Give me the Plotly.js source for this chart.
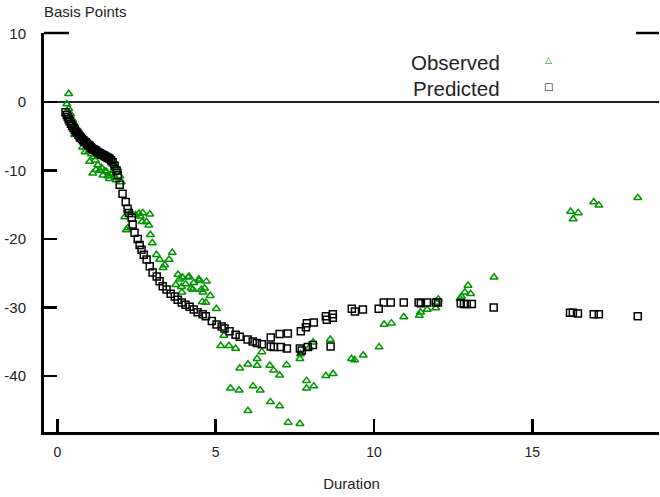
<!DOCTYPE html>
<html>
<head>
<meta charset="utf-8">
<script src="https://cdn.plot.ly/plotly-3.0.1.min.js"></script>
<style>html,body{margin:0;padding:0;background:#fff;}#chart{width:660px;height:497px;}</style>
</head>
<body>
<div id="chart"></div>
<script>
// Predicted (squares)
const predictedX = [0.26,0.30,0.33,0.36,0.39,0.43,0.47,0.51,0.55,0.59,0.63,0.67,0.70,0.74,0.78,0.82,0.86,0.90,0.94,0.98,1.02,1.06,1.10,1.14,1.18,1.22,1.26,1.30,1.34,1.38,1.42,1.46,1.49,1.53,1.57,1.61,1.65,1.70,1.75,1.81,1.87,1.91,1.97,2.06,2.16,2.22,2.26,2.35,2.38,2.44,2.54,2.60,2.66,2.73,2.82,2.92,3.01,3.14,3.23,3.33,3.45,3.58,3.71,3.80,3.93,4.05,4.18,4.31,4.43,4.59,4.69,4.88,5.03,5.19,5.28,5.44,5.63,5.76,6.01,6.17,6.30,6.46,6.74,6.84,7.06,7.25,7.66,7.72,7.91,8.07,8.63,6.74,7.02,7.28,7.69,7.85,7.88,8.10,8.48,8.51,8.70,8.70,9.30,9.40,9.65,10.15,10.31,10.53,10.94,11.41,11.48,11.67,11.95,12.02,12.74,12.84,12.93,13.09,13.78,16.19,16.28,16.44,16.94,17.10,18.33];
const predictedY = [-1.5,-1.9,-2.2,-2.5,-2.8,-3.2,-3.5,-3.8,-4.1,-4.3,-4.5,-4.8,-5.0,-5.2,-5.4,-5.6,-5.8,-5.9,-6.1,-6.3,-6.4,-6.6,-6.8,-6.9,-7.0,-7.1,-7.3,-7.4,-7.5,-7.6,-7.7,-7.8,-7.9,-8.0,-8.1,-8.2,-8.3,-8.5,-8.8,-9.3,-10.0,-10.7,-12.1,-13.4,-14.6,-15.6,-16.2,-16.9,-17.9,-19.1,-20.0,-20.9,-21.6,-22.3,-23.0,-24.0,-24.9,-25.5,-26.2,-26.9,-27.4,-28.0,-28.4,-28.9,-29.3,-29.6,-29.9,-30.3,-30.7,-31.0,-31.3,-32.0,-32.5,-32.8,-33.1,-33.5,-34.0,-34.3,-34.7,-35.0,-35.2,-35.4,-35.7,-35.8,-35.8,-36.0,-36.0,-36.3,-35.8,-35.5,-35.7,-34.4,-33.9,-33.8,-33.5,-32.9,-32.3,-32.2,-31.3,-31.8,-31.0,-31.5,-30.2,-30.6,-30.3,-30.2,-29.3,-29.3,-29.3,-29.3,-29.4,-29.3,-29.3,-29.3,-29.4,-29.5,-29.5,-29.5,-30.0,-30.8,-30.8,-30.9,-31.0,-31.0,-31.3];

// Observed (triangles)
const observedX = [0.36,0.30,0.36,0.42,0.48,0.55,0.60,0.55,0.66,0.72,0.78,0.85,0.80,0.92,1.00,0.88,1.08,1.15,1.20,1.02,1.12,1.22,1.28,1.34,1.40,1.44,1.50,1.55,1.60,1.65,1.70,1.76,1.82,1.86,1.91,1.97,2.02,1.80,1.72,
2.13,2.23,2.18,2.32,2.47,2.58,2.62,2.70,2.81,2.92,2.68,2.89,2.94,3.00,3.13,3.23,3.34,3.39,3.53,3.63,3.81,3.86,3.95,4.05,4.13,3.74,3.92,4.23,4.31,4.47,4.55,4.71,4.65,4.83,4.69,5.02,4.16,4.48,4.28,3.93,4.58,4.60,
5.26,5.16,5.42,5.63,6.46,6.31,6.02,5.76,6.31,6.71,6.83,7.02,7.24,5.47,5.74,6.18,6.41,6.02,6.73,7.02,7.29,7.66,7.66,7.68,7.95,8.08,7.87,7.87,8.10,8.48,8.71,8.62,9.29,9.39,
9.66,10.16,10.32,10.55,10.94,11.43,11.47,11.68,11.95,12.03,12.00,12.76,12.87,12.97,13.05,12.72,13.79,16.21,16.45,16.29,16.94,17.10,18.33];
const observedY = [1.2,-0.3,-1.0,-1.8,-2.6,-3.3,-3.9,-4.8,-4.5,-5.5,-5.2,-6.0,-6.6,-6.6,-7.2,-7.3,-7.6,-8.0,-8.5,-8.7,-10.4,-9.9,-9.2,-10.0,-9.6,-10.7,-10.1,-10.2,-10.8,-11.2,-10.5,-10.4,-11.0,-11.4,-9.7,-10.8,-11.7,-9.3,-8.9,
-16.8,-18.4,-18.7,-16.1,-16.5,-16.3,-16.7,-16.2,-17.5,-16.4,-17.5,-18.0,-19.4,-20.6,-22.3,-23.0,-24.2,-23.8,-23.0,-22.0,-25.2,-25.9,-25.6,-26.6,-25.6,-26.7,-27.0,-27.2,-26.4,-25.9,-27.4,-26.2,-27.2,-28.3,-29.3,-30.2,-25.5,-26.1,-27.4,-27.8,-29.2,-27.8,
-34.1,-35.6,-35.6,-36.0,-36.5,-37.5,-38.3,-38.9,-38.5,-38.5,-39.2,-39.9,-38.4,-41.8,-42.1,-41.5,-42.1,-45.1,-43.8,-44.4,-46.8,-47.0,-37.5,-36.8,-35.9,-35.1,-40.7,-41.8,-41.5,-40.0,-39.7,-34.7,-37.5,-37.7,
-37.0,-35.8,-32.5,-32.3,-31.4,-31.2,-30.7,-30.3,-30.1,-28.8,-29.3,-28.4,-27.8,-26.8,-28.0,-28.7,-25.6,-16.0,-16.2,-17.1,-14.6,-15.1,-14.0];

// Axis ticks
const xTickVals = [0, 5, 10, 15];
const xTickText = ["0", "5", "10", "15"];
const yTickVals = [-40, -30, -20, -10, 0, 10];
const yTickText = ["-40", "-30", "-20", "-10", "0", "10"];

const seriesNames = ["Observed", "Predicted"];
const GREEN = "rgb(0,150,0)";
const FONT = "Liberation Sans, Arial, sans-serif";
const TXT = "#222";

const traces = [
  {
    x: observedX, y: observedY, type: "scatter", mode: "markers", name: seriesNames[0],
    marker: {symbol: "triangle-up-open", size: 7, color: GREEN, line: {width: 1.5, color: GREEN}},
    cliponaxis: true, showlegend: false
  },
  {
    x: predictedX, y: predictedY, type: "scatter", mode: "markers", name: seriesNames[1],
    marker: {symbol: "square-open", size: 7, color: "black", line: {width: 1.5, color: "black"}},
    cliponaxis: true, showlegend: false
  }
];

const yRange = [-48.2, 10.07];
const plotW = 615, plotH = 399;
const layout = {
  width: 660, height: 497,
  margin: {l: 44, r: 1, t: 33, b: 65, pad: 0},
  paper_bgcolor: "white", plot_bgcolor: "white",
  font: {family: FONT, size: 15, color: TXT},
  showlegend: false,
  xaxis: {
    range: [-0.42, 19.0], showgrid: false, zeroline: false,
    showline: true, linecolor: "black", linewidth: 3,
    ticks: "inside", ticklen: 13, tickwidth: 2.5, tickcolor: "black",
    tickvals: xTickVals, ticktext: xTickText,
    tickfont: {family: FONT, size: 14, color: TXT},
    ticklabelstandoff: 5,
    title: {text: "Duration", font: {family: FONT, size: 15, color: TXT}, standoff: 20}
  },
  yaxis: {
    range: yRange, showgrid: false,
    zeroline: true, zerolinecolor: "#222", zerolinewidth: 1.4,
    showline: true, linecolor: "black", linewidth: 3,
    ticks: "inside", ticklen: 13, tickwidth: 2.5, tickcolor: "black",
    tickvals: yTickVals, ticktext: yTickText,
    tickfont: {family: FONT, size: 15, color: TXT},
    ticklabelstandoff: 12
  },
  yaxis2: {
    range: yRange, overlaying: "y", side: "right", showgrid: false, zeroline: false,
    showline: true, linecolor: "black", linewidth: 1.5,
    ticks: "inside", ticklen: 11, tickwidth: 2.5, tickcolor: "black",
    tickvals: yTickVals, showticklabels: false
  },
  shapes: [
    {type: "line", xref: "paper", yref: "paper", x0: 0, x1: 25/plotW, y0: 1, y1: 1, line: {color: "black", width: 2.5}},
    {type: "line", xref: "paper", yref: "paper", x0: 1 - 23/plotW, x1: 1, y0: 1, y1: 1, line: {color: "black", width: 2.5}}
  ],
  annotations: [
    {text: "Basis Points", xref: "paper", yref: "paper", x: 0, y: 1, xanchor: "left", yanchor: "bottom", yshift: 11, xshift: -2, showarrow: false, font: {family: FONT, size: 15, color: TXT}},
    {text: seriesNames[0], xref: "paper", yref: "paper", x: (502-44)/plotW, y: (432-62)/plotH, xanchor: "right", yanchor: "middle", showarrow: false, font: {family: FONT, size: 20.5, color: TXT}},
    {text: seriesNames[1], xref: "paper", yref: "paper", x: (502-44)/plotW, y: (432-88)/plotH, xanchor: "right", yanchor: "middle", showarrow: false, font: {family: FONT, size: 20.5, color: TXT}},
    {text: "\u25B3", xref: "paper", yref: "paper", x: (548-44)/plotW, y: (432-60)/plotH, xanchor: "center", yanchor: "middle", showarrow: false, font: {family: "DejaVu Sans", size: 9, color: GREEN}},
    {text: "\u25A1", xref: "paper", yref: "paper", x: (548-44)/plotW, y: (432-86)/plotH, xanchor: "center", yanchor: "middle", showarrow: false, font: {family: "DejaVu Sans", size: 10, color: "black"}}
  ]
};

Plotly.newPlot("chart", traces, layout, {displayModeBar: false, staticPlot: true});
</script>
</body>
</html>
